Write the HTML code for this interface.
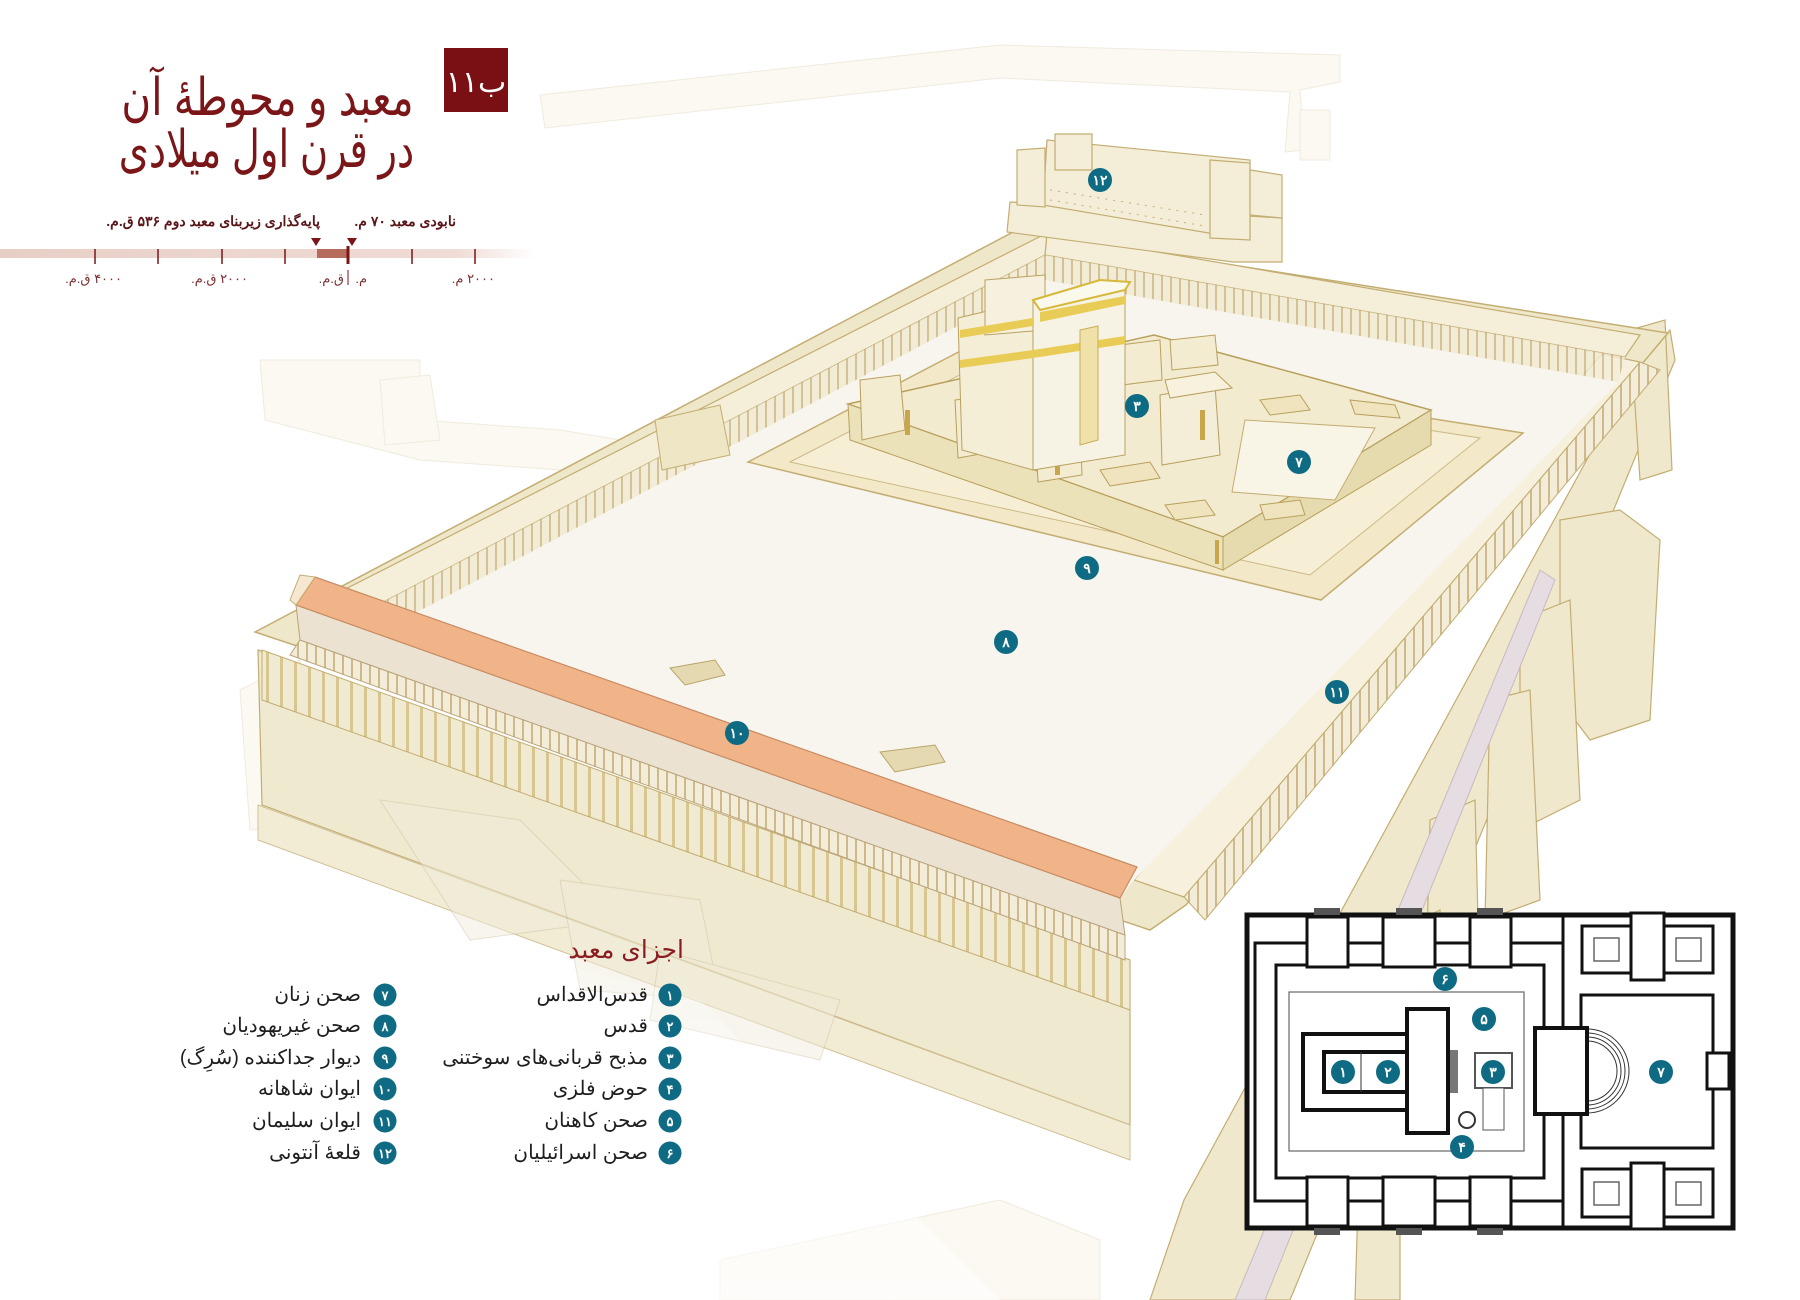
<!DOCTYPE html>
<html><head><meta charset="utf-8">
<style>
html,body{margin:0;padding:0;background:#fff;}
#wrap{position:relative;width:1800px;height:1300px;overflow:hidden;background:#fff;font-family:"Liberation Sans","Noto Sans CJK SC",sans-serif;}
svg{position:absolute;left:0;top:0;}
.t{position:absolute;direction:rtl;white-space:nowrap;}
.title{color:#7a1518;font-size:52px;line-height:56px;text-align:right;right:1386px;transform-origin:right center;}
.lg{position:absolute;direction:rtl;white-space:nowrap;font-size:20px;color:#1e1e1e;text-align:right;line-height:24px;}
.tl{position:absolute;direction:rtl;white-space:nowrap;color:#5a1518;}
</style></head><body><div id="wrap">
<svg width="1800" height="1300" viewBox="0 0 1800 1300" xmlns="http://www.w3.org/2000/svg">
<defs>
<pattern id="cols" width="9" height="10" patternUnits="userSpaceOnUse"><rect width="9" height="10" fill="#f3ecd8"/><rect x="0" width="2" height="10" fill="#cdb98a"/></pattern>
<pattern id="cols2" width="14" height="10" patternUnits="userSpaceOnUse"><rect width="14" height="10" fill="#f0ead2"/><rect x="0" width="3" height="10" fill="#d7c690"/></pattern>
<linearGradient id="fade" x1="0" y1="0" x2="0" y2="1"><stop offset="0" stop-color="#fff" stop-opacity="0"/><stop offset="1" stop-color="#fff" stop-opacity="1"/></linearGradient>
<linearGradient id="tlg" x1="0" y1="0" x2="1" y2="0"><stop offset="0" stop-color="#e8cfc6"/><stop offset="0.85" stop-color="#efdcd5"/><stop offset="1" stop-color="#fff"/></linearGradient>
</defs>
<g opacity="0.28" fill="#f1ead2" stroke="#cbb889" stroke-width="1">
<polygon points="540,95 1000,45 1340,55 1340,82 1300,90 1305,150 1285,152 1290,92 1000,78 545,128"/>
<polygon points="1300,110 1330,110 1330,160 1300,160"/>
<polygon points="260,360 420,360 420,420 560,430 800,470 805,500 560,470 420,460 265,420"/>
<polygon points="380,380 430,375 440,440 385,445"/>
<polygon points="720,1260 1000,1200 1100,1240 1100,1300 720,1300"/>
<polygon points="240,690 300,660 330,820 250,830"/>
</g>
<g fill="#f0e8cc" stroke="#c3ad72" stroke-width="1.2">
<polygon points="1640,362 1670,330 1675,360 1290,1300 1150,1300 1184,1200"/>
<polygon points="1560,520 1620,510 1660,540 1650,720 1590,740 1560,700"/>
<polygon points="1520,620 1570,600 1580,800 1520,830"/>
<polygon points="1490,700 1530,690 1540,900 1485,920"/>
<polygon points="1430,820 1475,800 1480,1000 1425,1020"/>
<polygon points="1400,930 1440,910 1440,1080 1395,1100"/>
<polygon points="1630,330 1665,320 1672,470 1640,480"/>
<polygon points="1360,1140 1400,1130 1400,1300 1355,1300"/>
</g>
<polygon points="1540,570 1555,580 1265,1300 1235,1300" fill="#e5dde2" stroke="#c8b9be"/>
<polygon points="255,632 1015,231 1668,333 1186,905 1150,930" fill="#efe7c9" stroke="#c3ad72" stroke-width="1.5"/>
<polygon points="258,650 1130,960 1130,1125 262,805" fill="#efe9cf" stroke="#c3ad72" stroke-width="1.2"/>
<polygon points="262,650 1130,960 1130,1010 262,700" fill="url(#cols2)" stroke="#c3ad72"/>
<polygon points="258,805 1130,1125 1130,1160 258,840" fill="#f2ecd5" stroke="#d0c096"/>
<g opacity="0.5" fill="#f1ecdc" stroke="#cfc4a4">
<polygon points="380,800 520,820 620,920 470,940"/>
<polygon points="560,880 700,900 720,1000 580,990"/>
<polygon points="660,950 840,1000 820,1060 650,1020"/>
</g>
<polygon points="1602,354 1640,362 1184,897 1134,880" fill="#f6f0dc" stroke="#c3ad72" stroke-width="1.2"/>
<polygon points="1640,362 1660,370 1205,920 1184,897" fill="url(#cols)" stroke="#c3ad72"/>
<polygon points="1047,233 1640,335 1625,357 1045,255" fill="#f5efda" stroke="#c3ad72" stroke-width="1.2"/>
<polygon points="1045,255 1625,357 1618,382 1045,280" fill="url(#cols)" opacity="0.8"/>
<polygon points="1047,233 1045,255 330,630 300,612" fill="#f5efda" stroke="#c3ad72" stroke-width="1.2"/>
<polygon points="1045,255 1045,280 355,645 330,630" fill="url(#cols)" opacity="0.8"/>
<polygon points="1045,280 1618,382 1134,880 1120,898 355,645" fill="#f8f5ee"/>
<polygon points="655,420 720,405 730,455 662,470" fill="#efe6c6" stroke="#c3ad72"/>
<polygon points="300,640 1125,935 1125,960 290,655" fill="url(#cols)" stroke="#b9a37a"/>
<polygon points="296,605 1120,898 1125,935 300,640" fill="#ebe2d2" stroke="#b9a37a"/>
<polygon points="315,577 1137,867 1120,898 296,605" fill="#f1b388" stroke="#c98b62" stroke-width="1.2"/>
<polygon points="296,605 315,577 300,575 290,600" fill="#f6e7d0" stroke="#c3ad72"/>
<polygon points="670,668 715,660 725,675 685,685" fill="#e4d9b0" stroke="#b9a56a"/>
<polygon points="880,752 935,745 945,762 895,772" fill="#e4d9b0" stroke="#b9a56a"/>
<!-- temple terrace -->
<polygon points="748,462 970,346 1523,433 1321,600" fill="#f3e9c8" stroke="#c3ad72" stroke-width="1.5"/>
<polygon points="790,462 985,362 1480,438 1310,575" fill="#f6efd6" stroke="#cdb985"/>
<!-- inner courts -->
<polygon points="848,404 1154,335 1431,410 1223,537" fill="#f3ebcf" stroke="#b89f5c" stroke-width="1.5"/>
<polygon points="848,404 1223,537 1223,570 850,440" fill="#ece2ba" stroke="#b89f5c"/>
<polygon points="1223,537 1431,410 1431,445 1223,570" fill="#e6dbae" stroke="#b89f5c"/>
<polygon points="1245,420 1375,428 1335,500 1232,492" fill="#f8f4e6" stroke="#c3ad72"/>
<g fill="#efe4bd" stroke="#b89f5c">
<polygon points="1260,400 1300,395 1310,410 1270,415"/><polygon points="1350,400 1395,405 1400,418 1355,414"/>
<polygon points="1165,505 1205,500 1215,515 1175,520"/><polygon points="1260,505 1300,500 1305,515 1265,520"/>
<polygon points="1100,470 1150,462 1160,478 1110,486"/>
</g>
<polygon points="1160,395 1215,385 1220,455 1162,465" fill="#f4eed8" stroke="#b89f5c"/>
<polygon points="1165,380 1215,372 1232,388 1170,398" fill="#f7f1de" stroke="#b89f5c"/>
<g fill="#f4ecd0" stroke="#b89f5c">
<polygon points="860,380 900,375 905,430 862,440"/>
<polygon points="955,400 1000,395 1003,450 958,458"/>
<polygon points="1035,425 1080,420 1082,475 1038,482"/>
<polygon points="1120,345 1160,340 1162,380 1122,385"/>
<polygon points="1170,340 1215,335 1218,365 1172,370"/>
</g>
<g fill="#c9a64a"><rect x="905" y="410" width="5" height="25"/><rect x="975" y="420" width="5" height="28"/><rect x="1055" y="445" width="5" height="30"/><rect x="1200" y="410" width="5" height="30"/><rect x="1215" y="540" width="4" height="24"/></g>
<!-- sanctuary -->
<polygon points="958,318 1033,300 1033,470 962,450" fill="#f4eed7" stroke="#b9a060"/>
<polygon points="985,280 1045,275 1045,330 985,335" fill="#f6f1df" stroke="#b9a060"/>
<polygon points="1033,300 1125,282 1125,455 1033,470" fill="#f7f3e4" stroke="#b9a060"/>
<polygon points="1033,300 1100,280 1130,282 1125,290 1040,310" fill="#fbf8ec" stroke="#d6b938" stroke-width="2"/>
<polygon points="1040,312 1125,296 1125,304 1040,322" fill="#e9cc55"/>
<polygon points="960,330 1033,318 1033,326 960,338" fill="#e9cc55"/>
<polygon points="960,360 1033,350 1033,358 960,368" fill="#e9cc55"/>
<polygon points="1033,350 1125,336 1125,344 1033,358" fill="#e9cc55"/>
<polygon points="1080,330 1098,326 1098,440 1080,445" fill="#efe1a8" stroke="#c9ad55"/>
<!-- Antonia -->
<g fill="#f4eed8" stroke="#c3ad72" stroke-width="1.2">
<polygon points="1010,202 1282,218 1282,262 1233,262 1007,232"/>
<polygon points="1047,140 1250,160 1250,240 1043,205"/>
<polygon points="1017,150 1045,148 1045,207 1017,205"/>
<polygon points="1055,134 1092,134 1092,170 1055,170"/>
<polygon points="1210,160 1250,163 1250,240 1210,238"/>
<polygon points="1250,170 1282,175 1282,218 1250,215"/>
</g>
<g stroke="#c9ad70" stroke-width="1" stroke-dasharray="2,6"><line x1="1050" y1="190" x2="1205" y2="215"/><line x1="1050" y1="200" x2="1205" y2="226"/></g>
<g font-family="Liberation Sans, Noto Sans CJK SC, sans-serif" font-size="14" font-weight="bold" fill="#fff" text-anchor="middle">
<g fill="#0f6b83"><circle cx="1100" cy="180" r="12"/><circle cx="1137" cy="406" r="12"/><circle cx="1299" cy="462" r="12"/><circle cx="1087" cy="568" r="12"/><circle cx="1006" cy="642" r="12"/><circle cx="1337" cy="692" r="12"/><circle cx="737" cy="733" r="12"/></g>
<text x="1100" y="185">۱۲</text><text x="1137" y="411">۳</text><text x="1299" y="467">۷</text><text x="1087" y="573">۹</text><text x="1006" y="647">۸</text><text x="1337" y="697">۱۱</text><text x="737" y="738">۱۰</text>
</g>
<polygon points="0,820 700,1000 1000,1300 0,1300" fill="url(#fade)" opacity="0.6"/>
<rect x="0" y="249" width="535" height="9" fill="url(#tlg)"/>
<rect x="317" y="249" width="32" height="9" fill="#b56c5d"/>
<g stroke="#7a1518" stroke-width="1.5"><line x1="95" y1="249" x2="95" y2="264"/><line x1="158" y1="249" x2="158" y2="264"/><line x1="222" y1="249" x2="222" y2="264"/><line x1="285" y1="249" x2="285" y2="264"/><line x1="348" y1="246" x2="348" y2="264" stroke-width="3"/><line x1="412" y1="249" x2="412" y2="264"/><line x1="475" y1="249" x2="475" y2="264"/><line x1="348" y1="270" x2="348" y2="285" stroke-width="1"/></g>
<polygon points="311,238 321,238 316,246" fill="#7a1518"/><polygon points="347,238 357,238 352,246" fill="#7a1518"/>
<rect x="444" y="48" width="64" height="64" fill="#7a1014"/>
<text x="476" y="92" font-size="30" fill="#fff" text-anchor="middle" font-family="Liberation Sans, Noto Sans CJK SC, sans-serif" direction="rtl">ب۱۱</text>
<g fill="#0f6b83"><circle cx="670" cy="995" r="11.5"/><circle cx="670" cy="1026" r="11.5"/><circle cx="670" cy="1058" r="11.5"/><circle cx="670" cy="1089" r="11.5"/><circle cx="670" cy="1121" r="11.5"/><circle cx="670" cy="1153" r="11.5"/>
<circle cx="385" cy="995" r="11.5"/><circle cx="385" cy="1026" r="11.5"/><circle cx="385" cy="1058" r="11.5"/><circle cx="385" cy="1089" r="11.5"/><circle cx="385" cy="1121" r="11.5"/><circle cx="385" cy="1153" r="11.5"/></g>
<g font-family="Liberation Sans, Noto Sans CJK SC, sans-serif" font-size="13" font-weight="bold" fill="#fff" text-anchor="middle">
<text x="670" y="1000">۱</text><text x="670" y="1031">۲</text><text x="670" y="1063">۳</text><text x="670" y="1094">۴</text><text x="670" y="1126">۵</text><text x="670" y="1158">۶</text>
<text x="385" y="1000">۷</text><text x="385" y="1031">۸</text><text x="385" y="1063">۹</text><text x="385" y="1094">۱۰</text><text x="385" y="1126">۱۱</text><text x="385" y="1158">۱۲</text>
</g>
<g>
<rect x="1247" y="915" width="486" height="313" fill="#fff" stroke="#111" stroke-width="5"/>
<g fill="#555"><rect x="1314" y="908" width="26" height="7"/><rect x="1396" y="908" width="26" height="7"/><rect x="1477" y="908" width="26" height="7"/><rect x="1314" y="1228" width="26" height="7"/><rect x="1396" y="1228" width="26" height="7"/><rect x="1477" y="1228" width="26" height="7"/></g>
<line x1="1563" y1="915" x2="1563" y2="1228" stroke="#111" stroke-width="3"/>
<rect x="1255" y="943" width="308" height="258" fill="none" stroke="#111" stroke-width="3"/>
<rect x="1276" y="965" width="268" height="213" fill="#fff" stroke="#111" stroke-width="3"/>
<g fill="#fff" stroke="#111" stroke-width="3">
<rect x="1307" y="917" width="41" height="50"/><rect x="1383" y="917" width="52" height="50"/><rect x="1470" y="917" width="41" height="50"/>
<rect x="1307" y="1177" width="41" height="49"/><rect x="1383" y="1177" width="52" height="49"/><rect x="1470" y="1177" width="41" height="49"/>
</g>
<rect x="1289" y="992" width="235" height="159" fill="none" stroke="#666" stroke-width="1.2"/>
<rect x="1303" y="1034" width="104" height="76" fill="none" stroke="#111" stroke-width="4"/>
<rect x="1407" y="1009" width="41" height="124" fill="#fff" stroke="#111" stroke-width="4"/>
<rect x="1324" y="1052" width="83" height="40" fill="#fff" stroke="#111" stroke-width="4"/>
<line x1="1361" y1="1052" x2="1361" y2="1092" stroke="#333" stroke-width="1"/>
<rect x="1450" y="1050" width="8" height="43" fill="#777"/>
<rect x="1475" y="1053" width="37" height="35" fill="#fff" stroke="#555" stroke-width="2"/>
<rect x="1483" y="1088" width="21" height="42" fill="#fff" stroke="#555" stroke-width="1"/>
<circle cx="1467" cy="1120" r="8" fill="#fff" stroke="#333" stroke-width="2"/>
<rect x="1581" y="995" width="132" height="153" fill="#fff" stroke="#111" stroke-width="3"/>
<g fill="none" stroke="#333" stroke-width="1"><path d="M1587,1029 A42,42 0 0 1 1587,1113"/><path d="M1587,1033 A38,38 0 0 1 1587,1109"/><path d="M1587,1037 A34,34 0 0 1 1587,1105"/><path d="M1587,1041 A30,30 0 0 1 1587,1101"/></g>
<rect x="1535" y="1028" width="52" height="86" fill="#fff" stroke="#111" stroke-width="4"/>
<rect x="1707" y="1053" width="22" height="36" fill="#fff" stroke="#111" stroke-width="3"/>
<rect x="1582" y="926" width="131" height="47" fill="#fff" stroke="#111" stroke-width="3"/>
<rect x="1631" y="913" width="33" height="67" fill="#fff" stroke="#111" stroke-width="3"/>
<rect x="1582" y="1169" width="131" height="48" fill="#fff" stroke="#111" stroke-width="3"/>
<rect x="1631" y="1163" width="33" height="66" fill="#fff" stroke="#111" stroke-width="3"/>
<g fill="none" stroke="#666" stroke-width="1.5"><rect x="1594" y="938" width="25" height="23"/><rect x="1676" y="938" width="25" height="23"/><rect x="1594" y="1182" width="25" height="23"/><rect x="1676" y="1182" width="25" height="23"/></g>
<g fill="#0f6b83"><circle cx="1445" cy="979" r="12"/><circle cx="1484" cy="1019" r="12"/><circle cx="1343" cy="1072" r="12"/><circle cx="1388" cy="1072" r="12"/><circle cx="1493" cy="1072" r="12"/><circle cx="1462" cy="1147" r="12"/><circle cx="1661" cy="1072" r="12"/></g>
<g font-family="Liberation Sans, Noto Sans CJK SC, sans-serif" font-size="14" font-weight="bold" fill="#fff" text-anchor="middle">
<text x="1445" y="984">۶</text><text x="1484" y="1024">۵</text><text x="1343" y="1077">۱</text><text x="1388" y="1077">۲</text><text x="1493" y="1077">۳</text><text x="1462" y="1152">۴</text><text x="1661" y="1077">۷</text></g>
</g>
</svg>
<div class="t title" style="top:70px;transform:scaleX(0.78);">معبد و محوطهٔ آن</div>
<div class="t title" style="top:122px;transform:scaleX(0.74);">در قرن اول میلادی</div>
<div class="tl" style="right:1344px;top:213px;font-size:14px;font-weight:bold;">نابودی معبد ۷۰ م.</div>
<div class="tl" style="right:1480px;top:213px;font-size:14px;font-weight:bold;">پایه‌گذاری زیربنای معبد دوم ۵۳۶ ق.م.</div>
<div class="tl" style="right:1305px;top:271px;font-size:13px;color:#7a3030;">۲۰۰۰ م.</div>
<div class="tl" style="right:1433px;top:271px;font-size:13px;color:#7a3030;">م.</div>
<div class="tl" style="right:1456px;top:271px;font-size:13px;color:#7a3030;">ق.م.</div>
<div class="tl" style="right:1552px;top:271px;font-size:13px;color:#7a3030;">۲۰۰۰ ق.م.</div>
<div class="tl" style="right:1678px;top:271px;font-size:13px;color:#7a3030;">۴۰۰۰ ق.م.</div>
<div class="lg" style="right:1116px;top:938px;font-size:25px;color:#8a1d22;">اجزای معبد</div>
<div class="lg" style="right:1152px;top:983px;">قدس‌الاقداس</div>
<div class="lg" style="right:1152px;top:1014px;">قدس</div>
<div class="lg" style="right:1152px;top:1046px;">مذبح قربانی‌های سوختنی</div>
<div class="lg" style="right:1152px;top:1077px;">حوض فلزی</div>
<div class="lg" style="right:1152px;top:1109px;">صحن کاهنان</div>
<div class="lg" style="right:1152px;top:1141px;">صحن اسرائیلیان</div>
<div class="lg" style="right:1439px;top:983px;">صحن زنان</div>
<div class="lg" style="right:1439px;top:1014px;">صحن غیریهودیان</div>
<div class="lg" style="right:1439px;top:1046px;">دیوار جداکننده (سُرِگ)</div>
<div class="lg" style="right:1439px;top:1077px;">ایوان شاهانه</div>
<div class="lg" style="right:1439px;top:1109px;">ایوان سلیمان</div>
<div class="lg" style="right:1439px;top:1141px;">قلعهٔ آنتونی</div>
</div></body></html>
